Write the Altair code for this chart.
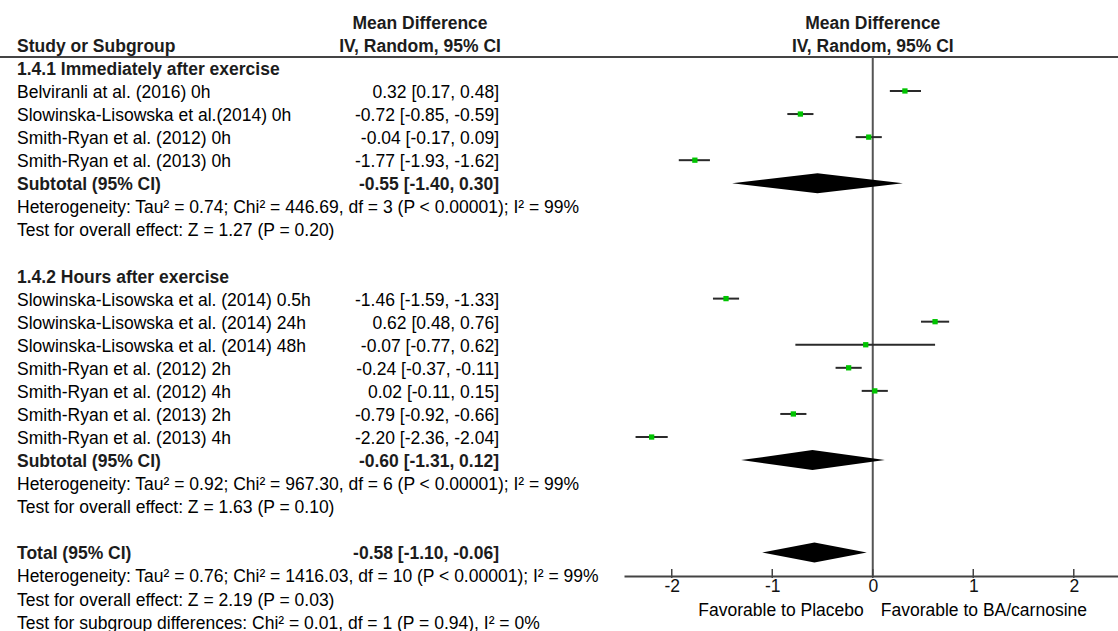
import altair as alt
import pandas as pd

# ---- Subgroup 1.4.1: immediately after exercise
names_141 = [
    "Belviranli at al. (2016) 0h",
    "Slowinska-Lisowska et al.(2014) 0h",
    "Smith-Ryan et al. (2012) 0h",
    "Smith-Ryan et al. (2013) 0h",
]
md_141 = [0.32, -0.72, -0.04, -1.77]
lo_141 = [0.17, -0.85, -0.17, -1.93]
hi_141 = [0.48, -0.59, 0.09, -1.62]

# ---- Subgroup 1.4.2: hours after exercise
names_142 = [
    "Slowinska-Lisowska et al. (2014) 0.5h",
    "Slowinska-Lisowska et al. (2014) 24h",
    "Slowinska-Lisowska et al. (2014) 48h",
    "Smith-Ryan et al. (2012) 2h",
    "Smith-Ryan et al. (2012) 4h",
    "Smith-Ryan et al. (2013) 2h",
    "Smith-Ryan et al. (2013) 4h",
]
md_142 = [-1.46, 0.62, -0.07, -0.24, 0.02, -0.79, -2.20]
lo_142 = [-1.59, 0.48, -0.77, -0.37, -0.11, -0.92, -2.36]
hi_142 = [-1.33, 0.76, 0.62, -0.11, 0.15, -0.66, -2.04]

# ---- Pooled estimates (subtotal 1.4.1, subtotal 1.4.2, total)
pooled_labels = ["Subtotal (95% CI)", "Subtotal (95% CI)", "Total (95% CI)"]
pooled_md = [-0.55, -0.60, -0.58]
pooled_lo = [-1.40, -1.31, -1.10]
pooled_hi = [0.30, 0.12, -0.06]

section_titles = ["1.4.1 Immediately after exercise", "1.4.2 Hours after exercise"]
stats_141 = [
    "Heterogeneity: Tau² = 0.74; Chi² = 446.69, df = 3 (P < 0.00001); I² = 99%",
    "Test for overall effect: Z = 1.27 (P = 0.20)",
]
stats_142 = [
    "Heterogeneity: Tau² = 0.92; Chi² = 967.30, df = 6 (P < 0.00001); I² = 99%",
    "Test for overall effect: Z = 1.63 (P = 0.10)",
]
stats_total = [
    "Heterogeneity: Tau² = 0.76; Chi² = 1416.03, df = 10 (P < 0.00001); I² = 99%",
    "Test for overall effect: Z = 2.19 (P = 0.03)",
    "Test for subgroup differences: Chi² = 0.01, df = 1 (P = 0.94), I² = 0%",
]

col_header_top = "Mean Difference"
col_header_bottom = "IV, Random, 95% CI"
study_header = "Study or Subgroup"
x_ticks = [-2, -1, 0, 1, 2]
favours_left = "Favorable to Placebo"
favours_right = "Favorable to BA/carnosine"


def ci_text(m, l, h):
    return f"{m:.2f} [{l:.2f}, {h:.2f}]"


# ---- Row layout of the table (one row index per printed line)
study_rows, bold_rows, plain_rows, pooled_rows = [], [], [], []

bold_rows.append({"row": 0, "label": section_titles[0]})
for i, (n, m, l, h) in enumerate(zip(names_141, md_141, lo_141, hi_141)):
    study_rows.append({"row": 1 + i, "name": n, "md": m, "lo": l, "hi": h, "txt": ci_text(m, l, h)})
pooled_row_idx = [5, 17, 21]
for i, t in enumerate(stats_141):
    plain_rows.append({"row": 6 + i, "label": t})

bold_rows.append({"row": 9, "label": section_titles[1]})
for i, (n, m, l, h) in enumerate(zip(names_142, md_142, lo_142, hi_142)):
    study_rows.append({"row": 10 + i, "name": n, "md": m, "lo": l, "hi": h, "txt": ci_text(m, l, h)})
for i, t in enumerate(stats_142):
    plain_rows.append({"row": 18 + i, "label": t})
for i, t in enumerate(stats_total):
    plain_rows.append({"row": 22 + i, "label": t})

for r, lab, m, l, h in zip(pooled_row_idx, pooled_labels, pooled_md, pooled_lo, pooled_hi):
    pooled_rows.append({"row": r, "label": lab, "md": m, "lo": l, "hi": h, "txt": ci_text(m, l, h)})
    bold_rows.append({"row": r, "label": lab})

studies = pd.DataFrame(study_rows)
pooled = pd.DataFrame(pooled_rows)
bold_left = pd.DataFrame(bold_rows)
plain_left = pd.DataFrame(plain_rows)

# Diamond outlines: left tip, centre (top/bottom), right tip
HALF = 0.4335  # diamond half-height in row units
diamond_pts = []
for g, p in enumerate(pooled_rows):
    diamond_pts.append({"g": g, "x": p["lo"], "yt": p["row"], "yb": p["row"]})
    diamond_pts.append({"g": g, "x": p["md"], "yt": p["row"] - HALF, "yb": p["row"] + HALF})
    diamond_pts.append({"g": g, "x": p["hi"], "yt": p["row"], "yb": p["row"]})
diamonds = pd.DataFrame(diamond_pts)

headers_left = pd.DataFrame({"row": [-2, -1], "label": [col_header_top, col_header_bottom]})
headers_right = pd.DataFrame({"row": [-2, -1], "label": [col_header_top, col_header_bottom], "v": [0, 0]})
tick_df = pd.DataFrame({"v": x_ticks})
zero_df = pd.DataFrame({"v": [0]})
fav_df = pd.DataFrame({"v": [0], "left": [favours_left], "right": [favours_right]})

# ---- Scales / style
W, H = 1118, 576
FONT = "Liberation Sans"
FS = 17.5
INK = "#000000"
BOLD_INK = "#1c1c1c"

y_scale = alt.Scale(domain=[0, 24], range=[67.9, 621.6])
x_scale = alt.Scale(domain=[-2.475, 2.44], range=[624, 1118])
x_axis = alt.Axis(
    values=x_ticks, ticks=False, grid=False, title=None,
    domainColor="#444444", domainWidth=2,
    labelFont=FONT, labelFontSize=FS, labelColor="#111111",
    labelPadding=1, labelOverlap=False, labelFlush=False,
    labelExpr="datum.value + ''",
)


def X(field):
    return alt.X(field, type="quantitative", scale=x_scale, axis=x_axis)


def Y(field):
    return alt.Y(field, type="quantitative", scale=y_scale, axis=None)


top_rule = alt.Chart(pd.DataFrame({"a": [0]})).mark_rule(stroke="#444444", strokeWidth=2).encode(
    x=alt.value(0), x2=alt.value(W), y=alt.value(57)
)

zero_line = alt.Chart(zero_df).mark_rule(stroke="#555555", strokeWidth=2).encode(
    x=X("v"), y=alt.value(57), y2=alt.value(576)
)

axis_ticks = alt.Chart(tick_df).mark_rule(stroke="#444444", strokeWidth=1.5).encode(
    x=X("v"), y=alt.value(569), y2=alt.value(578)
)

ci_lines = alt.Chart(studies).mark_rule(stroke="#2a2a2a", strokeWidth=2).encode(
    x=X("lo"), x2="hi:Q", y=Y("row")
)

squares = alt.Chart(studies).mark_square(size=28, color="#00c400", opacity=1).encode(
    x=X("md"), y=Y("row")
)

diamond_marks = alt.Chart(diamonds).mark_area(color="#000000", orient="vertical", opacity=1).encode(
    x=X("x"), y=Y("yt"), y2="yb:Q", detail="g:N"
)

# table text sits a touch below the row centre line
txt = dict(font=FONT, fontSize=FS, baseline="middle", dy=2)

names_txt = alt.Chart(studies).mark_text(align="left", color=INK, **txt).encode(
    x=alt.value(17), y=Y("row"), text="name:N"
)
effects_txt = alt.Chart(studies).mark_text(align="right", color=INK, **txt).encode(
    x=alt.value(499), y=Y("row"), text="txt:N"
)
pooled_txt = alt.Chart(pooled).mark_text(align="right", color=BOLD_INK, fontWeight="bold", **txt).encode(
    x=alt.value(499), y=Y("row"), text="txt:N"
)
bold_txt = alt.Chart(bold_left).mark_text(align="left", color=BOLD_INK, fontWeight="bold", **txt).encode(
    x=alt.value(17), y=Y("row"), text="label:N"
)
plain_txt = alt.Chart(plain_left).mark_text(align="left", color=INK, **txt).encode(
    x=alt.value(17), y=Y("row"), text="label:N"
)
study_head = alt.Chart(pd.DataFrame({"row": [-1], "label": [study_header]})).mark_text(
    align="left", color=BOLD_INK, fontWeight="bold", **txt
).encode(x=alt.value(17), y=Y("row"), text="label:N")
col_head = alt.Chart(headers_left).mark_text(align="center", color=BOLD_INK, fontWeight="bold", **txt).encode(
    x=alt.value(420), y=Y("row"), text="label:N"
)
plot_head = alt.Chart(headers_right).mark_text(align="center", color=BOLD_INK, fontWeight="bold", **txt).encode(
    x=X("v"), y=Y("row"), text="label:N"
)
fav_left = alt.Chart(fav_df).mark_text(align="right", dx=-9, color=INK, font=FONT, fontSize=FS,
                                       baseline="middle").encode(
    x=X("v"), y=alt.value(611), text="left:N"
)
fav_right = alt.Chart(fav_df).mark_text(align="left", dx=8, color=INK, font=FONT, fontSize=FS,
                                        baseline="middle").encode(
    x=X("v"), y=alt.value(611), text="right:N"
)

chart = alt.layer(
    top_rule, zero_line, axis_ticks, ci_lines, squares, diamond_marks,
    names_txt, effects_txt, pooled_txt, bold_txt, plain_txt,
    study_head, col_head, plot_head, fav_left, fav_right,
).properties(
    width=W, height=H,
    padding={"left": 0, "top": 0, "right": 0, "bottom": 55},
    autosize=alt.AutoSizeParams(type="none"),
    background="white",
).configure_view(stroke=None)

chart.save("out.html", embed_options={"renderer": "svg", "actions": False})
